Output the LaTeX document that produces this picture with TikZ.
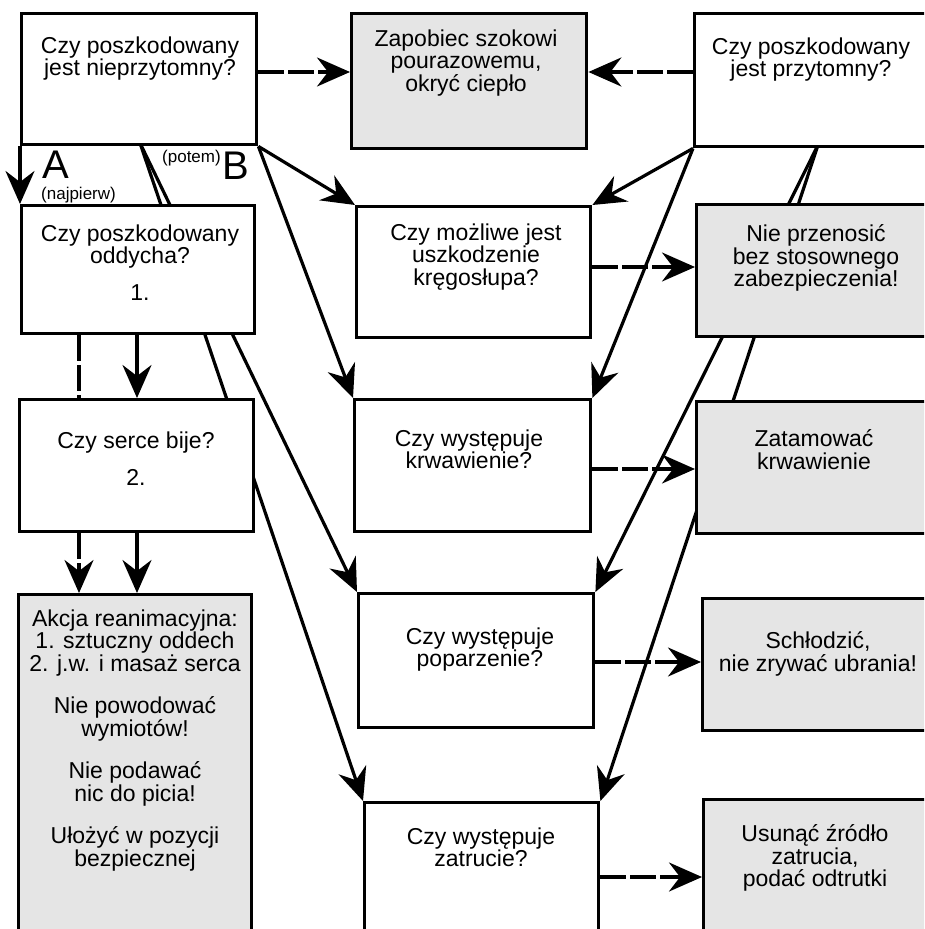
\documentclass[tikz,border=0pt]{standalone}
\usepackage{fontspec}
\setmainfont{Liberation Sans}
\usetikzlibrary{arrows.meta,backgrounds}
\begin{document}
\begin{tikzpicture}[x=1pt,y=-1pt,
  box/.style={draw,line width=3.4pt,fill=white,inner sep=0pt,anchor=north west},
  act/.style={box,fill=black!10},
  txt/.style={inner sep=0pt,anchor=north,align=center,font=\fontsize{23}{22.5}\selectfont,execute at begin node={\rule{0pt}{21pt}}},
  conn/.style={line width=3.2pt},
  arr/.style={conn,-{Stealth[length=33pt,width=29pt,inset=11pt]}},
  dsh/.style={dash pattern=on 26pt off 4pt},
  big/.style={inner sep=0pt,anchor=base west,font=\fontsize{40}{40}\selectfont},
  small/.style={inner sep=0pt,anchor=base west,font=\fontsize{17}{17}\selectfont}]
\useasboundingbox (0,0) rectangle (924,929);
\clip (0,0) rectangle (924,929);

% boxes
\node[box,minimum width=235pt,minimum height=131pt] (q1) at (20,12) {};
\node[act,minimum width=235pt,minimum height=135pt] (shock) at (350,12) {};
\node[box,minimum width=242pt,minimum height=133pt] (q2) at (693,12) {};
\node[box,minimum width=233pt,minimum height=128pt] (q3) at (20,204) {};
\node[box,minimum width=234pt,minimum height=132pt] (q4) at (18,398) {};
\node[act,minimum width=233pt,minimum height=352pt] (akcja) at (17,593) {};
\node[box,minimum width=234pt,minimum height=131pt] (spine) at (355,205) {};
\node[act,minimum width=240pt,minimum height=132pt] (nie) at (695,203) {};
\node[box,minimum width=236pt,minimum height=132pt] (krw) at (353,398) {};
\node[act,minimum width=240pt,minimum height=132pt] (zatam) at (695,400) {};
\node[box,minimum width=235pt,minimum height=134pt] (pop) at (357,592) {};
\node[act,minimum width=234pt,minimum height=132pt] (schl) at (701,597) {};
\node[box,minimum width=234pt,minimum height=144pt] (zat) at (363,801) {};
\node[act,minimum width=233pt,minimum height=147pt] (usun) at (702,798) {};

% texts
\node[txt] (q1t) at (140,36.5) {Czy poszkodowany\\jest nieprzytomny?};
\node[txt] (shockt) at (466,29.5) {Zapobiec szokowi\\pourazowemu,\\okryć ciepło};
\node[txt] (q2t) at (811,37.5) {Czy poszkodowany\\jest przytomny?};
\node[txt] (q3t) at (140,224.5) {Czy poszkodowany\\oddycha?\\[14pt]1.};
\node[txt] (q4t) at (136,431.5) {Czy serce bije?\\[15pt]2.};
\node[txt] (akcjat) at (135,609.5) {Akcja reanimacyjna:\\1. sztuczny oddech\\2. j.w. i masaż serca\\[20pt]Nie powodować\\wymiotów!\\[20pt]Nie podawać\\nic do picia!\\[20pt]Ułożyć w pozycji\\bezpiecznej};
\node[txt] (spinet) at (476,223.5) {Czy możliwe jest\\uszkodzenie\\kręgosłupa?};
\node[txt] (niet) at (816,224.5) {Nie przenosić\\bez stosownego\\zabezpieczenia!};
\node[txt] (krwt) at (469,429.5) {Czy występuje\\krwawienie?};
\node[txt] (zatamt) at (814,429.5) {Zatamować\\krwawienie};
\node[txt] (popt) at (480,627.5) {Czy występuje\\poparzenie?};
\node[txt] (schlt) at (818,631.5) {Schłodzić,\\nie zrywać ubrania!};
\node[txt] (zatt) at (481,827.5) {Czy występuje\\zatrucie?};
\node[txt] (usunt) at (815,824.5) {Usunąć źródło\\zatrucia,\\podać odtrutki};

% branch labels
\node[big] (la) at (42,178) {A};
\node[small] (lan) at (41,199) {(najpierw)};
\node[small] (lbp) at (162,162) {(potem)};
\node[big] (lb) at (222,179) {B};

% lines passing behind boxes
\coordinate (q1b) at (140,143);
\coordinate (q2b) at (818,145);
\begin{scope}[on background layer]
\draw[arr] (q1b) -- (pop.north west);
\draw[arr] (q1b) -- (zat.north west);
\draw[arr] (q2b) -- (pop.north east);
\draw[arr] (q2b) -- (zat.north east);
\end{scope}

% dashed horizontal arrows
\draw[arr,dsh] (q1.east |- 0,72) -- (shock.west |- 0,72);
\draw[arr,dsh] (q2.west |- 0,72) -- (shock.east |- 0,72);
\draw[arr,dsh] (spine.east |- 0,267) -- (nie.west |- 0,267);
\draw[arr,dsh] (krw.east |- 0,469) -- (zatam.west |- 0,469);
\draw[arr,dsh] (pop.east |- 0,662) -- (schl.west |- 0,662);
\draw[arr,dsh] (zat.east |- 0,877) -- (usun.west |- 0,877);

% vertical connectors
\draw[arr] (q1.south west) -- (q3.north west);
\draw[conn,dsh] (q3.south west -| 79,0) -- (q4.north west -| 79,0);
\draw[arr] (q3.south west -| 137,0) -- (q4.north west -| 137,0);
\draw[arr,dsh] (q4.south west -| 79,0) -- (akcja.north west -| 79,0);
\draw[arr] (q4.south west -| 137,0) -- (akcja.north west -| 137,0);

% diagonal connectors
\draw[arr] (q1.south east) -- (spine.north west);
\draw[arr] (q1.south east) -- (krw.north west);
\draw[arr] (q2.south west) -- (spine.north east);
\draw[arr] (q2.south west) -- (krw.north east);
\end{tikzpicture}
\end{document}
